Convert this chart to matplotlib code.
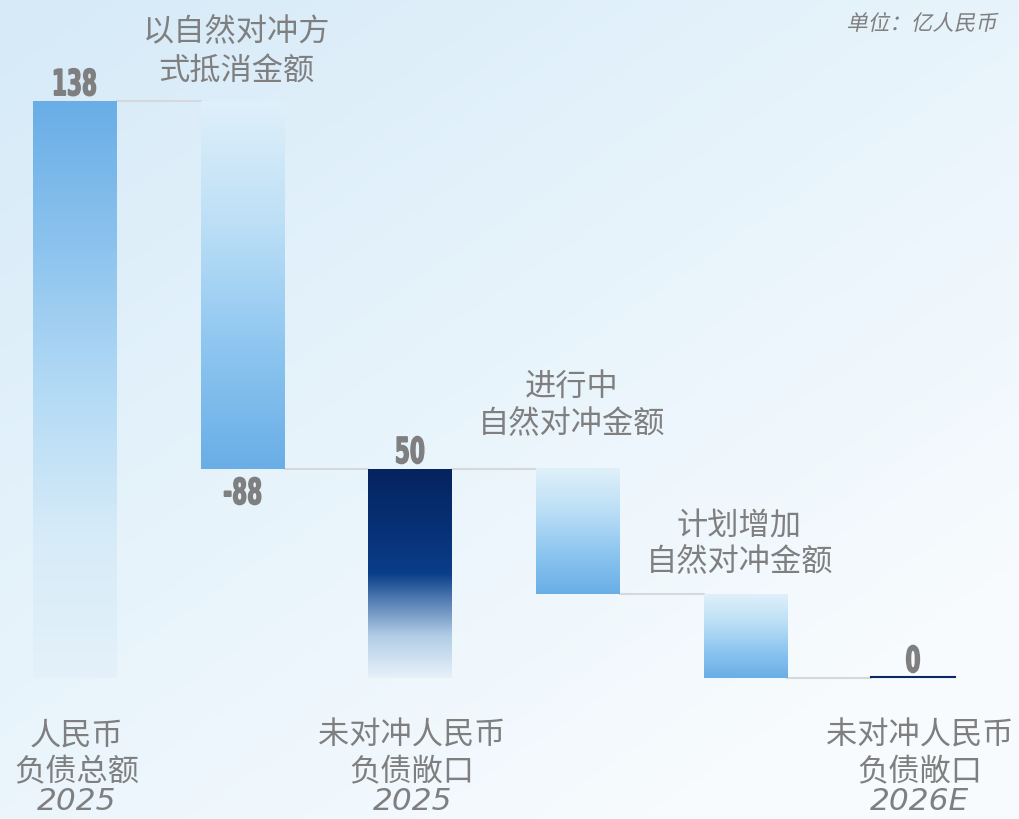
import numpy as np
import matplotlib
matplotlib.use("Agg")
import matplotlib.pyplot as plt
from matplotlib.colors import LinearSegmentedColormap
from matplotlib.textpath import TextPath
from matplotlib.patches import PathPatch
from matplotlib.font_manager import FontProperties
from matplotlib.transforms import Affine2D

plt.rcParams['font.family'] = ['Noto Sans CJK SC', 'DejaVu Sans']

# data
steps = [138, -88, 50, -30, -20, 0]
kinds = ['total', 'delta', 'total', 'delta', 'delta', 'total']
value_labels = ['138', '-88', '50', '', '', '0']
top_labels = [[], ['以自然对冲方', '式抵消金额'], [], ['进行中', '自然对冲金额'], ['计划增加', '自然对冲金额'], []]
bottom_labels = [['人民币', '负债总额'], [], ['未对冲人民币', '负债敞口'], [], [], ['未对冲人民币', '负债敞口']]
years = ['2025', '', '2025', '', '', '2026E']
unit = '单位：亿人民币'

W, H = 1020, 819
fig = plt.figure(figsize=(W / 100, H / 100), dpi=100)

# background gradient
bg = fig.add_axes([0, 0, 1, 1])
bg.axis('off')
gx, gy = np.meshgrid(np.linspace(0, 1, 200), np.linspace(0, 1, 200))
g = np.clip(0.55 * gx + 0.65 * gy, 0, 1)
bg_cmap = LinearSegmentedColormap.from_list('bg', ['#d6eaf8', '#e6f3fb', '#f7fbfe'])
bg.imshow(g, cmap=bg_cmap, aspect='auto', extent=[0, 1, 1, 0], vmin=0, vmax=1)
bg.set_xlim(0, 1)
bg.set_ylim(1, 0)

ax = fig.add_axes([0, 0, 1, 1])
ax.axis('off')
ax.patch.set_alpha(0)
step_px = 167.6
x0px = 75
zero_px = 678
k = 4.18
ax.set_xlim(-x0px / step_px, (W - x0px) / step_px)
ax.set_ylim(-(H - zero_px) / k, zero_px / k)

light_blue = LinearSegmentedColormap.from_list('lb', ['#69aee6', '#8cc3ee', '#b3daf5', '#d6ebf8', '#e4f1fa'])
light_blue_up = LinearSegmentedColormap.from_list('lbu', ['#dff0fa', '#bcdff6', '#8ec6f0', '#69aee6'])
navy = LinearSegmentedColormap.from_list(
    'nv', [(0, '#05235e'), (0.3, '#083278'), (0.5, '#0a3e88'), (0.62, '#4f79b0'),
           (0.8, '#b2cde6'), (1, '#e6f1fa')])

bw = 0.5
grad = np.linspace(0, 1, 256).reshape(-1, 1)
level = 0
tops = []
for i, (v, kd) in enumerate(zip(steps, kinds)):
    if kd == 'total':
        lo, hi = 0, v
        level = v
        cmap = light_blue if i == 0 else navy
    else:
        hi = level
        lo = level + v
        level = lo
        cmap = light_blue_up
    tops.append(level)
    if hi > lo:
        ax.imshow(grad, cmap=cmap, aspect='auto', extent=[i - bw / 2, i + bw / 2, lo, hi],
                  origin='upper', zorder=2)
    else:
        ax.plot([i - bw / 2, i + bw / 2], [0.15, 0.15], color='#0a2a66', lw=1.5, zorder=3)

# connectors
for i in range(len(steps) - 1):
    ax.plot([i + bw / 2, i + 1 - bw / 2], [tops[i]] * 2, color='#d5d8dc', lw=1.5, zorder=1)

# text layer in pixel coordinates
tx = fig.add_axes([0, 0, 1, 1])
tx.axis('off')
tx.patch.set_alpha(0)
tx.set_xlim(0, W)
tx.set_ylim(H, 0)
grey = '#7f7f7f'


def path_text(x, y, s, size, family, weight='normal', stretch=1.0, skew=0.0, lw=0):
    tp = TextPath((0, 0), s, size=size, prop=FontProperties(family=family, weight=weight))
    ext = tp.get_extents()
    cx = (ext.x0 + ext.x1) / 2
    cy = (ext.y0 + ext.y1) / 2
    tr = Affine2D().translate(-cx, -cy).skew_deg(skew, 0).scale(stretch, -1).translate(x, y)
    tx.add_patch(PathPatch(tr.transform_path(tp), facecolor=grey, edgecolor=grey, lw=lw, zorder=5))


def px_x(i):
    return x0px + i * step_px


def px_y(v):
    return zero_px - v * k


for i, lab in enumerate(value_labels):
    if not lab:
        continue
    if kinds[i] == 'delta':
        yc = px_y(tops[i]) + 22
    else:
        yc = px_y(max(steps[i], 0)) - 19
    path_text(px_x(i), yc, lab, 36, 'DejaVu Sans', 'bold', stretch=0.6, lw=1.0)

top_rows = {1: [32, 72], 3: [387, 424], 4: [526, 562]}
for i, lines in enumerate(top_labels):
    if not lines:
        continue
    for j, line in enumerate(lines):
        tx.text(px_x(i) - 6, top_rows[i][j], line, ha='center', va='center',
                fontsize=22.5, color=grey)

for i, lines in enumerate(bottom_labels):
    if not lines:
        continue
    xc = px_x(i) + (7 if i == 5 else 2)
    for j, line in enumerate(lines):
        tx.text(xc, 736 + 36 * j, line, ha='center', va='center', fontsize=22.5, color=grey)
    tx.text(xc, 802, years[i], ha='center', va='center', fontsize=22.5, color=grey,
            style='italic', family=['DejaVu Sans'])

path_text(923, 22, unit, 21.5, 'Noto Sans CJK SC', skew=12)

fig.savefig('out.png', dpi=100)
